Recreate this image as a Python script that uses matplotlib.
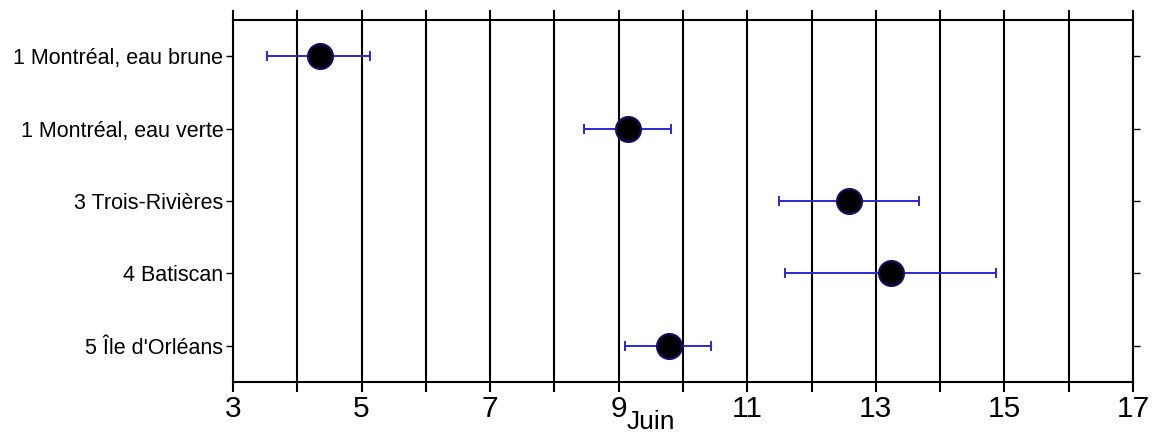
import numpy as np
import matplotlib.pyplot as plt
from matplotlib.ticker import MultipleLocator, FixedLocator

# data (day of June)
sites = ["1 Montréal, eau brune", "1 Montréal, eau verte", "3 Trois-Rivières",
         "4 Batiscan", "5 Île d'Orléans"]
mean_day = [4.35, 9.14, 12.58, 13.23, 9.78]
low_day = [3.53, 8.46, 11.49, 11.58, 9.10]
high_day = [5.13, 9.81, 13.67, 14.87, 10.43]
day_ticks = [3, 5, 7, 9, 11, 13, 15, 17]

plt.rcParams['font.family'] = ['Liberation Sans', 'DejaVu Sans']

fig = plt.figure(figsize=(11.54, 4.36), dpi=100)
ax = fig.add_axes([233/1154, 1 - 382/436, 900/1154, 362/436])

ypos = np.arange(1, len(sites) + 1)
mean_day = np.array(mean_day)
err = [mean_day - np.array(low_day), np.array(high_day) - mean_day]

ax.errorbar(mean_day, ypos, xerr=err, fmt='none', ecolor='#2a2ad0',
            elinewidth=1.4, capsize=3.5, capthick=1.4, zorder=3)
ax.plot(mean_day, ypos, 'o', ms=18, mfc='black', mec='#10106a', mew=1.5, zorder=4)

ax.set_xlim(3, 17)
ax.set_ylim(5.5, 0.5)
ax.set_yticks(ypos)
ax.set_yticklabels(sites, fontsize=15.5)
ax.xaxis.set_major_locator(FixedLocator(day_ticks))
ax.xaxis.set_minor_locator(MultipleLocator(1))
ax.tick_params(axis='x', which='both', direction='out', length=7, width=1.5,
               top=True, labelsize=21.5, pad=2)
ax.tick_params(axis='y', direction='out', length=5, width=1, right=True, pad=2)
ax.grid(True, axis='x', which='both', color='black', linewidth=1.5, zorder=1)
for s in ax.spines.values():
    s.set_linewidth(1.5)

ax.set_xlabel("Juin", fontsize=19)
ax.xaxis.set_label_coords((651 - 233) / 900, -0.078)

fig.savefig("out.png", dpi=100)
